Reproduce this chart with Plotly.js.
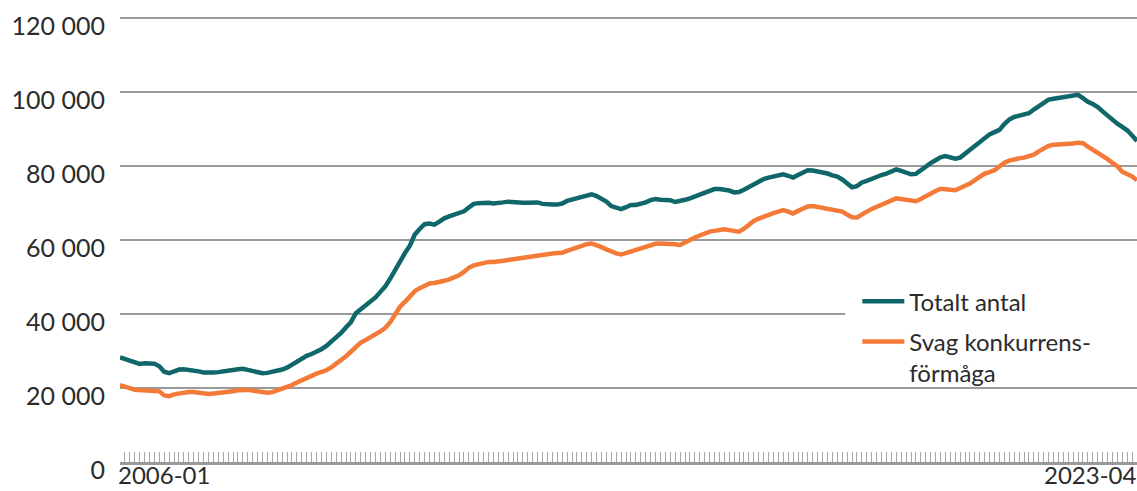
<!DOCTYPE html>
<html>
<head>
<meta charset="utf-8">
<script src="https://cdn.plot.ly/plotly-3.0.1.min.js"></script>
<style>
  html, body { margin: 0; padding: 0; background: #fff; }
  #chart { width: 1137px; height: 491px; }
</style>
</head>
<body>
<div id="chart"></div>
<script>
// monthly labels 2006-01 .. 2023-04
const months = [];
for (let y = 2006; y <= 2023; y++) {
    for (let m = 1; m <= 12; m++) {
        if (y === 2023 && m > 4) break;
        months.push(y + "-" + String(m).padStart(2, "0"));
    }
}

// Totalt antal (thousands)
const totalK = [
    28.3, 27.9, 27.4, 26.9, 26.5, 26.7, 26.7, 26.6, 25.9, 24.4, 24.0, 24.6, // 2006
    25.0, 25.1, 25.0, 24.9, 24.5, 24.2, 24.1, 24.2, 24.3, 24.4, 24.7, 24.9, // 2007
    25.1, 25.2, 24.9, 24.6, 24.3, 24.0, 24.1, 24.3, 24.6, 25.0, 25.5, 26.3, // 2008
    27.4, 28.1, 28.7, 29.2, 29.8, 30.5, 31.4, 32.5, 33.6, 34.9, 36.4, 37.8, // 2009
    40.2, 41.3, 42.2, 43.2, 44.5, 46.0, 47.5, 49.6, 52.0, 54.6, 56.5, 58.5, // 2010
    61.5, 63.0, 64.3, 64.5, 64.2, 65.0, 65.9, 66.4, 66.8, 67.2, 67.8, 68.8, // 2011
    69.8, 70.0, 70.1, 70.1, 69.9, 69.9, 70.2, 70.4, 70.2, 70.0, 70.1, 70.1, // 2012
    70.2, 70.2, 69.8, 69.6, 69.6, 69.6, 69.9, 70.6, 71.0, 71.2, 71.7, 72.1, // 2013
    72.4, 71.9, 71.2, 70.4, 69.2, 68.7, 68.4, 68.9, 69.5, 69.5, 69.7, 70.2, // 2014
    70.8, 71.1, 70.9, 70.8, 70.8, 70.3, 70.5, 70.9, 71.3, 71.8, 72.3, 72.9, // 2015
    73.5, 73.8, 73.8, 73.7, 73.4, 72.9, 73.0, 73.6, 74.3, 75.3, 75.9, 76.5, // 2016
    76.9, 77.3, 77.7, 77.8, 77.4, 76.9, 77.6, 78.3, 78.9, 78.8, 78.6, 78.4, // 2017
    78.0, 77.5, 77.2, 76.4, 75.2, 74.3, 74.6, 75.6, 76.0, 76.6, 77.0, 77.6, // 2018
    78.0, 78.5, 79.1, 78.7, 78.2, 77.8, 77.9, 78.9, 80.0, 80.8, 81.6, 82.4, // 2019
    82.7, 82.5, 82.0, 82.3, 83.4, 84.4, 85.6, 86.6, 87.7, 88.6, 89.2, 89.8, // 2020
    91.4, 92.6, 93.3, 93.6, 93.9, 94.3, 95.3, 96.3, 97.2, 98.0, 98.2, 98.4, // 2021
    98.6, 98.8, 98.9, 99.3, 98.4, 97.4, 96.8, 96.0, 94.8, 93.6, 92.6, 91.5, // 2022
    90.6, 89.7, 88.3, 86.8                                                  // 2023
];

// Svag konkurrensförmåga (thousands)
const weakK = [
    20.8, 20.5, 20.0, 19.5, 19.4, 19.3, 19.4, 19.4, 19.1, 18.0, 17.8, 18.3, // 2006
    18.6, 18.8, 18.9, 18.9, 18.7, 18.4, 18.4, 18.5, 18.6, 18.7, 18.9, 19.1, // 2007
    19.4, 19.5, 19.5, 19.3, 19.1, 18.8, 18.7, 18.9, 19.3, 19.7, 20.2, 20.8, // 2008
    21.5, 22.2, 22.8, 23.3, 23.9, 24.3, 24.8, 25.6, 26.5, 27.4, 28.6, 29.8, // 2009
    31.0, 32.3, 33.0, 33.7, 34.5, 35.3, 36.3, 37.8, 39.9, 42.0, 43.3, 44.8, // 2010
    46.2, 47.0, 47.8, 48.3, 48.4, 48.6, 49.0, 49.4, 49.9, 50.5, 51.4, 52.5, // 2011
    53.2, 53.6, 53.9, 54.1, 54.1, 54.1, 54.4, 54.6, 54.8, 55.0, 55.3, 55.6, // 2012
    55.9, 56.1, 56.2, 56.4, 56.4, 56.5, 56.6, 57.1, 57.6, 58.0, 58.5, 58.9, // 2013
    59.1, 58.7, 58.1, 57.5, 56.9, 56.4, 56.1, 56.5, 57.0, 57.2, 57.6, 58.1, // 2014
    58.7, 59.0, 59.1, 59.1, 59.0, 58.9, 58.7, 59.2, 60.0, 60.7, 61.3, 61.9, // 2015
    62.3, 62.5, 62.8, 62.9, 62.7, 62.4, 62.3, 63.1, 64.2, 65.2, 65.8, 66.4, // 2016
    66.8, 67.3, 67.7, 68.1, 67.7, 67.2, 67.9, 68.6, 69.1, 69.2, 69.0, 68.8, // 2017
    68.6, 68.3, 68.0, 67.7, 66.9, 66.2, 66.1, 67.0, 67.7, 68.4, 69.0, 69.6, // 2018
    70.3, 70.9, 71.3, 71.1, 70.9, 70.6, 70.5, 71.1, 71.9, 72.6, 73.3, 73.9, // 2019
    73.9, 73.6, 73.5, 74.0, 74.6, 75.3, 76.2, 77.1, 78.0, 78.4, 78.9, 79.9, // 2020
    80.9, 81.5, 81.9, 82.1, 82.3, 82.6, 83.1, 84.0, 84.8, 85.5, 85.8, 85.8, // 2021
    85.9, 86.0, 86.1, 86.3, 86.2, 85.3, 84.5, 83.8, 82.9, 81.9, 80.9, 80.0, // 2022
    78.5, 78.0, 77.2, 76.2                                                  // 2023
];

const yTicks = [0, 20000, 40000, 60000, 80000, 100000, 120000];
const yTickText = ["0", "20 000", "40 000", "60 000", "80 000", "100 000", "120 000"];

const total = totalK.map(v => v * 1000);
const weak = weakK.map(v => v * 1000);

const textColor = "#2b2b2b";
const fontFam = "Lato, 'Open Sans', sans-serif";

const traces = [
    {
        x: months, y: total,
        type: "scatter", mode: "lines",
        name: "Totalt antal",
        legendgroup: "a",
        line: { color: "#10676a", width: 4.5 }
    },
    {
        x: months, y: weak,
        type: "scatter", mode: "lines",
        name: "Svag konkurrens-<br>förmåga",
        legendgroup: "b",
        line: { color: "#f47a38", width: 4.5 }
    }
];

const layout = {
    width: 1137, height: 491,
    margin: { l: 120, r: 0, t: 16, b: 29 },
    paper_bgcolor: "#fff", plot_bgcolor: "#fff",
    font: { family: fontFam, size: 25, color: textColor },
    showlegend: true,
    legend: {
        x: 0.725, y: 0.41, xanchor: "left", yanchor: "top",
        bgcolor: "rgba(0,0,0,0)",
        itemwidth: 42,
        valign: "top",
        traceorder: "grouped",
        tracegroupgap: 6,
        font: { size: 24, color: textColor }
    },
    // white patch hiding the gridline behind the legend
    shapes: [
        {
            type: "rect", xref: "paper", yref: "y", layer: "above",
            x0: 0.713, x1: 1, y0: 38800, y1: 41200,
            fillcolor: "#fff", line: { width: 0 }
        }
    ],
    xaxis: {
        type: "category",
        range: [0, months.length - 1],
        showgrid: false,
        showticklabels: false,
        ticks: "inside", ticklen: 10, tickwidth: 1, tickcolor: "#a8a8a8",
        dtick: 1,
        showline: true, linecolor: "#9a9a9a", linewidth: 2.5,
        fixedrange: true
    },
    yaxis: {
        range: [0, 120600],
        tickvals: yTicks, ticktext: yTickText,
        showgrid: true, gridcolor: "#9a9a9a", gridwidth: 2.5,
        zeroline: false,
        ticks: "", ticklabelstandoff: 14, ticklabelshift: 8,
        tickfont: { size: 25, color: textColor },
        fixedrange: true
    },
    annotations: [
        {
            x: months[0], xref: "x", y: 0, yref: "paper",
            xanchor: "left", yanchor: "bottom", yshift: -29, xshift: -4,
            text: months[0], showarrow: false,
            font: { size: 24, color: textColor }
        },
        {
            x: months[months.length - 1], xref: "x", y: 0, yref: "paper",
            xanchor: "right", yanchor: "bottom", yshift: -29, xshift: 2,
            text: months[months.length - 1], showarrow: false,
            font: { size: 24, color: textColor }
        }
    ]
};

Plotly.newPlot("chart", traces, layout, { displayModeBar: false, staticPlot: true });
</script>
</body>
</html>
